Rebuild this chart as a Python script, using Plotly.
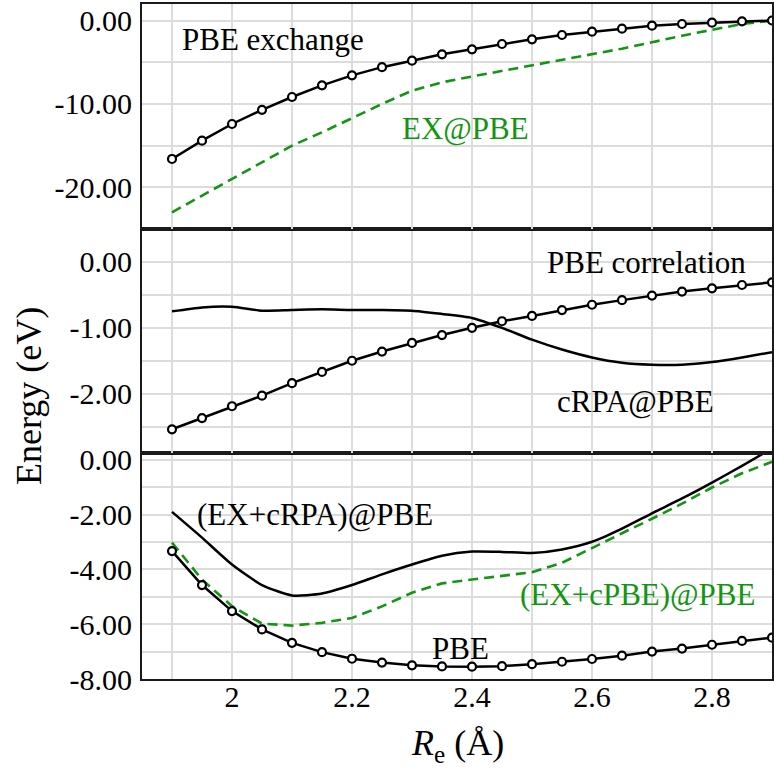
import plotly.graph_objects as go

# ---------------- data ----------------
R = [1.90, 1.95, 2.00, 2.05, 2.10, 2.15, 2.20, 2.25, 2.30, 2.35, 2.40,
     2.45, 2.50, 2.55, 2.60, 2.65, 2.70, 2.75, 2.80, 2.85, 2.90]

# top panel: exchange
pbe_exchange = [-16.6, -14.4, -12.4, -10.7, -9.16, -7.76, -6.56, -5.58, -4.8, -4.04, -3.44,
                -2.8, -2.24, -1.72, -1.32, -0.96, -0.6, -0.4, -0.24, -0.08, 0.02]
ex_at_pbe = [-23.0, -21.0, -19.1, -17.0, -15.0, -13.4, -11.7, -10.0, -8.4, -7.4, -6.7,
             -6.04, -5.3, -4.7, -4.04, -3.36, -2.6, -1.8, -1.1, -0.4, 0.0]

# middle panel: correlation
pbe_correlation = [-2.54, -2.37, -2.19, -2.03, -1.84, -1.67, -1.50, -1.36, -1.23, -1.11, -1.00,
                   -0.90, -0.82, -0.73, -0.65, -0.58, -0.51, -0.45, -0.40, -0.35, -0.31]
crpa_at_pbe = [-0.75, -0.69, -0.68, -0.74, -0.73, -0.72, -0.73, -0.73, -0.74, -0.79, -0.85,
               -1.00, -1.18, -1.33, -1.45, -1.53, -1.56, -1.56, -1.52, -1.45, -1.37]

# bottom panel: totals
pbe_total = [-3.33, -4.57, -5.52, -6.19, -6.68, -7.02, -7.26, -7.40, -7.50, -7.54, -7.55,
             -7.53, -7.46, -7.37, -7.27, -7.15, -7.00, -6.89, -6.75, -6.61, -6.49]
ex_crpa_at_pbe = [-1.90, -2.84, -3.82, -4.57, -4.95, -4.88, -4.57, -4.18, -3.82, -3.50, -3.35,
                  -3.36, -3.40, -3.27, -2.99, -2.51, -1.95, -1.41, -0.83, -0.22, 0.42]
ex_cpbe_at_pbe = [-3.02, -4.37, -5.34, -5.98, -6.05, -5.95, -5.77, -5.35, -4.85, -4.51, -4.37,
                  -4.24, -4.10, -3.76, -3.21, -2.68, -2.15, -1.60, -1.01, -0.49, -0.07]

x_tickvals = [2.0, 2.2, 2.4, 2.6, 2.8]
x_ticktext = ["2", "2.2", "2.4", "2.6", "2.8"]
top_tickvals = [0, -10, -20]
top_ticktext = ["0.00", "-10.00", "-20.00"]
mid_tickvals = [0, -1, -2]
mid_ticktext = ["0.00", "-1.00", "-2.00"]
bot_tickvals = [0, -2, -4, -6, -8]
bot_ticktext = ["0.00", "-2.00", "-4.00", "-6.00", "-8.00"]

# ---------------- style ----------------
FONT = "Liberation Serif, Times New Roman, DejaVu Serif, serif"
BLACK = "#000000"
GREEN = "#129612"
GRID = "#dcdcdc"
AXLINE = "#1a1a1a"

fig = go.Figure()


def dashed(y, xa, ya):
    fig.add_trace(go.Scatter(x=R, y=y, mode="lines", xaxis=xa, yaxis=ya,
                             line=dict(color=GREEN, width=2.6, dash="10px,6px"),
                             showlegend=False, hoverinfo="skip"))


def solid(y, xa, ya):
    fig.add_trace(go.Scatter(x=R, y=y, mode="lines", xaxis=xa, yaxis=ya,
                             line=dict(color=BLACK, width=2.5, shape="spline", smoothing=0.6),
                             showlegend=False, hoverinfo="skip"))


def marked(y, xa, ya):
    fig.add_trace(go.Scatter(x=R, y=y, mode="lines+markers", xaxis=xa, yaxis=ya,
                             line=dict(color=BLACK, width=2.5),
                             marker=dict(symbol="circle", size=8, color="white",
                                         line=dict(color=BLACK, width=2.2)),
                             showlegend=False, hoverinfo="skip"))


# top
dashed(ex_at_pbe, "x3", "y3")
marked(pbe_exchange, "x3", "y3")
# middle
solid(crpa_at_pbe, "x2", "y2")
marked(pbe_correlation, "x2", "y2")
# bottom
dashed(ex_cpbe_at_pbe, "x", "y")
solid(ex_crpa_at_pbe, "x", "y")
marked(pbe_total, "x", "y")

xcommon = dict(range=[1.85, 2.9], showline=True, mirror=True, linecolor=AXLINE, linewidth=2,
               showgrid=True, gridcolor=GRID, gridwidth=1.5, zeroline=False, automargin=False,
               tickvals=x_tickvals, ticktext=x_ticktext, ticks="",
               minor=dict(tick0=1.9, dtick=0.1, showgrid=True, gridcolor=GRID, gridwidth=1.5),
               tickfont=dict(family=FONT, size=30, color=BLACK))
ycommon = dict(showline=True, mirror=True, linecolor=AXLINE, linewidth=2, automargin=False,
               showgrid=True, gridcolor=GRID, gridwidth=1.5, zeroline=False, ticks="",
               ticklabelstandoff=2,
               tickfont=dict(family=FONT, size=30, color=BLACK))

d1 = 0.3348
d2 = 0.6667

fig.update_layout(
    width=774, height=772,
    margin=dict(l=142, r=2, t=4, b=93),
    paper_bgcolor="white", plot_bgcolor="white",
    font=dict(family=FONT, color=BLACK),
    xaxis=dict(**xcommon, anchor="y", showticklabels=True, ticklabelstandoff=-10),
    xaxis2=dict(**xcommon, anchor="y2", matches="x", showticklabels=False),
    xaxis3=dict(**xcommon, anchor="y3", matches="x", showticklabels=False),
    yaxis=dict(**ycommon, domain=[0, d1], range=[-8, 0.25], anchor="x",
               tickvals=bot_tickvals, ticktext=bot_ticktext),
    yaxis2=dict(**ycommon, domain=[d1, d2], range=[-2.9, 0.5], anchor="x2",
                tickvals=mid_tickvals, ticktext=mid_ticktext),
    yaxis3=dict(**ycommon, domain=[d2, 1], range=[-25, 2], anchor="x3",
                tickvals=top_tickvals, ticktext=top_ticktext),
)
fig.layout.yaxis.minor = dict(tick0=0, dtick=1, showgrid=True, gridcolor=GRID, gridwidth=1.5)
fig.layout.yaxis2.minor = dict(tick0=0, dtick=0.5, showgrid=True, gridcolor=GRID, gridwidth=1.5)
fig.layout.yaxis3.minor = dict(tick0=0, dtick=5, showgrid=True, gridcolor=GRID, gridwidth=1.5)

AF = dict(family=FONT, size=31, color=BLACK)
GF = dict(family=FONT, size=31, color=GREEN)
annos = [
    dict(text="PBE exchange", x=1.913, y=-2.3, xref="x3", yref="y3", font=AF),
    dict(text="EX@PBE", x=2.28, y=-12.9, xref="x3", yref="y3", font=GF),
    dict(text="PBE correlation", x=2.522, y=-0.01, xref="x2", yref="y2", font=AF),
    dict(text="cRPA@PBE", x=2.538, y=-2.12, xref="x2", yref="y2", font=AF),
    dict(text="(EX+cRPA)@PBE", x=1.938, y=-1.99, xref="x", yref="y", font=AF),
    dict(text="(EX+cPBE)@PBE", x=2.477, y=-4.91, xref="x", yref="y", font=GF),
    dict(text="PBE", x=2.33, y=-6.88, xref="x", yref="y", font=AF),
]
for a in annos:
    fig.add_annotation(showarrow=False, xanchor="left", yanchor="middle", **a)

# axis titles
fig.add_annotation(text="Energy (eV)", textangle=-90, xref="paper", yref="paper",
                   x=(29 - 142) / 630, y=(679 - 396) / 675, xanchor="center", yanchor="middle",
                   showarrow=False, font=dict(family=FONT, size=36, color=BLACK))
fig.add_annotation(text="<i>R</i><sub>e</sub> (Å)", xref="paper", yref="paper",
                   x=0.5, y=(679 - 745) / 675, xanchor="center", yanchor="middle",
                   showarrow=False, font=dict(family=FONT, size=36, color=BLACK))

fig.write_html("out.html")
